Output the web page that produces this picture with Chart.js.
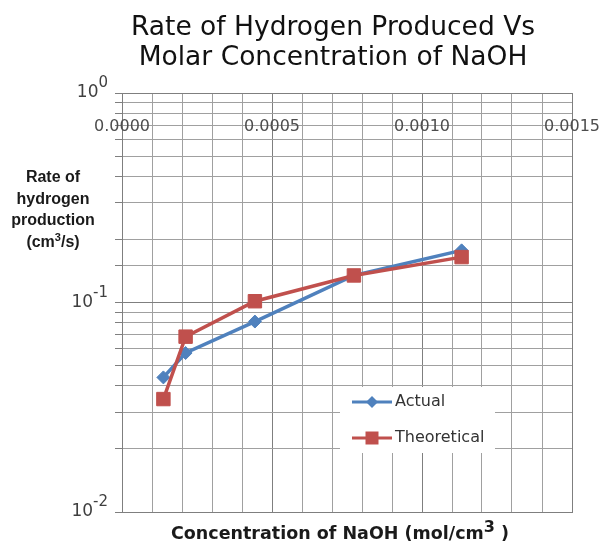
<!DOCTYPE html>
<html>
<head>
<meta charset="utf-8">
<script src="https://cdn.jsdelivr.net/npm/chart.js@4"></script>
<style>
  html, body { margin: 0; padding: 0; background: #ffffff; }
  #wrap { width: 601px; height: 546px; position: relative; }
</style>
</head>
<body>
<div id="wrap"><canvas id="c" width="601" height="546"></canvas></div>
<script>
// ---- data ----
const concentration = [0.000138, 0.000212, 0.000443, 0.000773, 0.001132]; // mol/cm^3
const actualRate = [0.0439, 0.0574, 0.0811, 0.1346, 0.1774];              // cm^3/s
const theoreticalRate = [0.0346, 0.0687, 0.1014, 0.1346, 0.1647];         // cm^3/s
const seriesNames = ['Actual', 'Theoretical'];
const xTickLabels = ['0.0000', '0.0005', '0.0010', '0.0015'];
const xTickValues = [0, 0.0005, 0.0010, 0.0015];
const yTickExponents = [0, -1, -2];
const titleLines = ['Rate of Hydrogen Produced Vs', 'Molar Concentration of NaOH'];
const yTitleLines = ['Rate of', 'hydrogen', 'production'];
const xAxisCross = 0.7; // horizontal axis labels sit at this y value

const blue = '#4F81BD';
const red = '#C0504D';
const majorGrid = '#7f7f7f';
const minorGrid = '#a0a0a0';

function pts(ys) { return concentration.map((x, i) => ({ x: x, y: ys[i] })); }
function isDecade(v) { const l = Math.log10(v); return Math.abs(l - Math.round(l)) < 1e-6; }
function isMajorX(v) { const r = v / 0.0005; return Math.abs(r - Math.round(r)) < 1e-6; }

function drawSup(ctx, base, sup, xRight, y, baseFont, supFont, color) {
  ctx.save();
  ctx.fillStyle = color;
  ctx.textBaseline = 'alphabetic';
  ctx.font = supFont;
  const ws = ctx.measureText(sup).width;
  ctx.font = baseFont;
  const wb = ctx.measureText(base).width;
  ctx.textAlign = 'left';
  ctx.fillText(base, xRight - ws - wb, y + 4);
  ctx.font = supFont;
  ctx.fillText(sup, xRight - ws, y - 6);
  ctx.restore();
}

const decor = {
  id: 'decor',
  afterDraw(chart) {
    const ctx = chart.ctx;
    const xs = chart.scales.x, ys = chart.scales.y;
    ctx.save();
    // title
    ctx.fillStyle = '#111111';
    ctx.font = '26.5px "DejaVu Sans"';
    ctx.textAlign = 'center';
    ctx.textBaseline = 'alphabetic';
    ctx.fillText(titleLines[0], 333, 35);
    ctx.fillText(titleLines[1], 333, 65);

    // y tick labels with superscripts
    yTickExponents.forEach(e => {
      const y = ys.getPixelForValue(Math.pow(10, e));
      drawSup(ctx, '10', String(e), 108, y,
        '17px "DejaVu Sans"', '15px "DejaVu Sans"', '#3f3f3f');
    });

    // x tick labels (axis crossing inside plot)
    ctx.fillStyle = '#4d4d4d';
    ctx.font = '16px "DejaVu Sans"';
    ctx.textAlign = 'center';
    ctx.textBaseline = 'middle';
    const yx = ys.getPixelForValue(xAxisCross) + 1;
    xTickValues.forEach((v, i) => {
      ctx.fillText(xTickLabels[i], xs.getPixelForValue(v), yx);
    });

    // y axis title
    ctx.fillStyle = '#1a1a1a';
    ctx.font = 'bold 16px "Liberation Sans"';
    ctx.textAlign = 'center';
    ctx.textBaseline = 'alphabetic';
    const yb = [182, 204, 225, 247];
    yTitleLines.forEach((t, i) => ctx.fillText(t, 53, yb[i]));
    // (cm3/s) with superscript
    {
      const f = 'bold 16px "Liberation Sans"', fs = 'bold 11px "Liberation Sans"';
      ctx.font = f; const w1 = ctx.measureText('(cm').width; const w3 = ctx.measureText('/s)').width;
      ctx.font = fs; const w2 = ctx.measureText('3').width;
      const tot = w1 + w2 + w3; let x0 = 53 - tot / 2;
      ctx.textAlign = 'left';
      ctx.font = f; ctx.fillText('(cm', x0, yb[3]);
      ctx.font = fs; ctx.fillText('3', x0 + w1, yb[3] - 6);
      ctx.font = f; ctx.fillText('/s)', x0 + w1 + w2, yb[3]);
    }
    // x axis title
    {
      const f = 'bold 17.5px "DejaVu Sans"', fs = 'bold 16px "DejaVu Sans"';
      const a = 'Concentration of NaOH (mol/cm', b = '3', c = ' )';
      ctx.font = f; const w1 = ctx.measureText(a).width; const w3 = ctx.measureText(c).width;
      ctx.font = fs; const w2 = ctx.measureText(b).width;
      let x0 = 340 - (w1 + w2 + w3) / 2;
      ctx.textAlign = 'left';
      ctx.font = f; ctx.fillText(a, x0, 539);
      ctx.font = fs; ctx.fillText(b, x0 + w1, 532);
      ctx.font = f; ctx.fillText(c, x0 + w1 + w2, 539);
    }

    // legend
    ctx.fillStyle = '#ffffff';
    ctx.fillRect(340, 387, 155, 66);
    const items = [
      { name: seriesNames[0], color: blue, style: 'diamond', y: 402 },
      { name: seriesNames[1], color: red, style: 'rect', y: 438 }
    ];
    items.forEach(it => {
      ctx.strokeStyle = it.color; ctx.lineWidth = 3;
      ctx.beginPath(); ctx.moveTo(352, it.y); ctx.lineTo(392, it.y); ctx.stroke();
      ctx.fillStyle = it.color;
      ctx.beginPath();
      if (it.style === 'rect') { ctx.rect(372 - 6.5, it.y - 6.5, 13, 13); }
      else { ctx.moveTo(372, it.y - 6); ctx.lineTo(378, it.y); ctx.lineTo(372, it.y + 6); ctx.lineTo(366, it.y); ctx.closePath(); }
      ctx.fill();
      ctx.fillStyle = '#333333';
      ctx.font = '16px "DejaVu Sans"';
      ctx.textAlign = 'left';
      ctx.textBaseline = 'middle';
      ctx.fillText(it.name, 395, it.y);
    });
    ctx.restore();
  }
};

new Chart(document.getElementById('c'), {
  type: 'scatter',
  data: {
    datasets: [
      {
        label: seriesNames[0], data: pts(actualRate), showLine: true,
        borderColor: blue, backgroundColor: blue, borderWidth: 3.5,
        pointStyle: 'rectRot', pointRadius: 6.5, pointBorderWidth: 1, order: 2
      },
      {
        label: seriesNames[1], data: pts(theoreticalRate), showLine: true,
        borderColor: red, backgroundColor: red, borderWidth: 3.5,
        pointStyle: 'rect', pointRadius: 9.5, pointBorderWidth: 1, order: 1
      }
    ]
  },
  options: {
    responsive: false,
    animation: false,
    layout: { padding: { top: 93, right: 29, bottom: 34, left: 0 } },
    plugins: { legend: { display: false }, tooltip: { enabled: false }, title: { display: false } },
    scales: {
      x: {
        type: 'linear', min: 0, max: 0.0015,
        ticks: { display: false, stepSize: 0.0001 },
        grid: {
          drawTicks: false,
          color: c => (c.tick && isMajorX(c.tick.value)) ? majorGrid : minorGrid,
          lineWidth: 1
        },
        border: { display: true, color: majorGrid, width: 1 },
        afterFit: s => { s.height = 0; }
      },
      y: {
        type: 'logarithmic', min: 0.01, max: 1,
        ticks: { display: false },
        grid: {
          drawTicks: true, tickLength: 7,
          color: c => (c.tick && isDecade(c.tick.value)) ? majorGrid : minorGrid,
          tickColor: majorGrid,
          lineWidth: 1
        },
        border: { display: true, color: majorGrid, width: 1 },
        afterFit: s => { s.width = 122; }
      }
    }
  },
  plugins: [decor]
});
</script>
</body>
</html>
